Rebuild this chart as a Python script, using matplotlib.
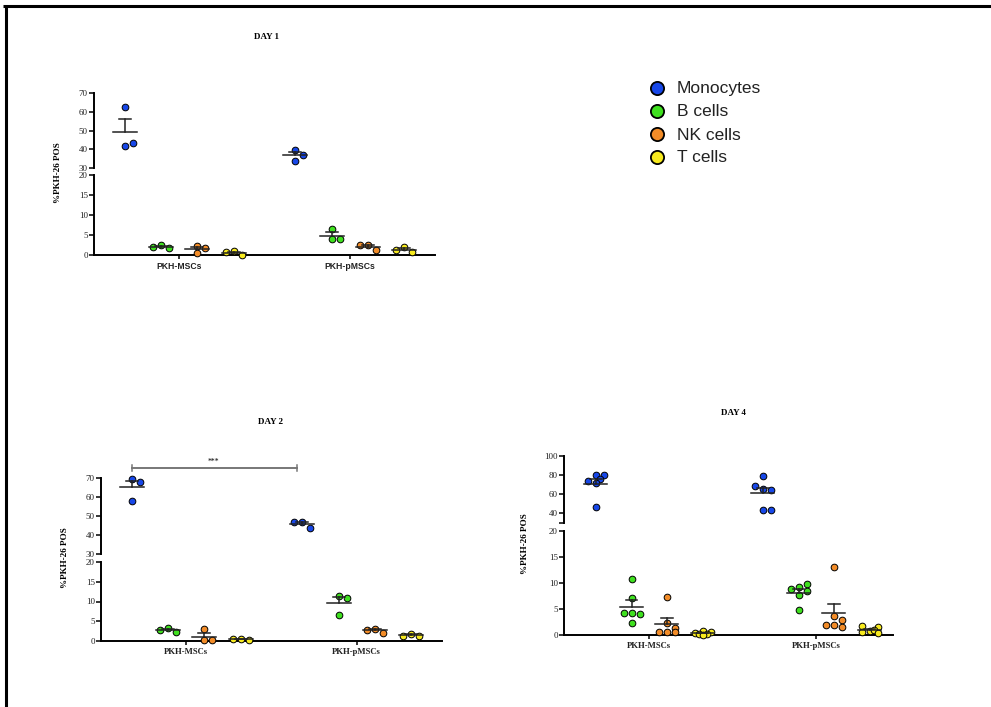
import numpy as np
import matplotlib
matplotlib.use('Agg')
import matplotlib.pyplot as plt

plt.rcParams['font.family'] = 'Liberation Serif'

cell_types = ['Monocytes', 'B cells', 'NK cells', 'T cells']
colors = ['#1747e8', '#3fe01f', '#f28c28', '#f7ea1e']
conditions = ['PKH-MSCs', 'PKH-pMSCs']

# % PKH-26 positive cells, one list per cell type (Monocytes, B, NK, T)
day1_msc = [[62.6, 42.0, 43.5], [2.5, 1.8, 1.9], [2.2, 0.5, 1.7], [0.9, 0.1, 0.8]]
day1_pmsc = [[39.6, 37.0, 33.7], [6.4, 4.1, 4.1], [2.5, 1.25, 2.5], [1.9, 0.7, 1.25]]
day2_msc = [[69.3, 67.9, 58.1], [3.2, 2.4, 2.7], [3.0, 0.2, 0.2], [0.5, 0.25, 0.5]]
day2_pmsc = [[46.7, 43.5, 46.7], [11.5, 11.0, 6.7], [3.1, 2.1, 2.8], [1.8, 1.35, 1.35]]
day4_msc = [[79.7, 79.7, 73.8, 75.9, 71.4, 46.9],
            [10.7, 7.1, 4.2, 4.1, 4.2, 2.3],
            [7.3, 2.4, 1.3, 0.6, 0.5, 0.5],
            [0.8, 0.5, 0.4, 0.1, 0.1, 0.0]]
day4_pmsc = [[78.6, 65.5, 64.1, 68.9, 44.1, 44.1],
             [9.3, 9.8, 8.9, 8.5, 7.6, 4.8],
             [13.0, 3.7, 2.8, 2.0, 2.0, 1.6],
             [0.7, 1.5, 1.8, 1.0, 0.6, 0.4]]

W, H = 991, 707
fig = plt.figure(figsize=(W / 100, H / 100), dpi=100)


def px_rect(x0, y0, x1, y1):
    return [x0 / W, 1 - y1 / H, (x1 - x0) / W, (y1 - y0) / H]


def swarm(ax, xc, vals, d=8.0):
    # spread points sideways (max +-d pixels) so they overlap as little as possible
    pts = ax.transData.transform([(xc, v) for v in vals])
    ppu = ax.transData.transform([(1, 0)])[0][0] - ax.transData.transform([(0, 0)])[0][0]
    cands = [0, d, -d, d / 2, -d / 2]
    placed, out = [], []
    for y in pts[:, 1]:
        best, best_gap = 0, -1
        for x in cands:
            gap = min([np.hypot(x - px, y - py) for px, py in placed] or [1e9])
            if gap >= 0.85 * d:
                best = x
                break
            if gap > best_gap:
                best, best_gap = x, gap
        placed.append((best, y))
        out.append(xc + best / ppu)
    return out


def style_axes(ax, bottom):
    for s in ['top', 'right']:
        ax.spines[s].set_visible(False)
    ax.spines['left'].set_linewidth(1.4)
    ax.tick_params(axis='y', direction='out', length=3.5, width=1.1, pad=1,
                   labelsize=6.5, labelcolor='#222222')
    if bottom:
        ax.spines['bottom'].set_linewidth(1.4)
        ax.tick_params(axis='x', direction='out', length=3, width=1.1, pad=2)
    else:
        ax.spines['bottom'].set_visible(False)
        ax.tick_params(axis='x', bottom=False, labelbottom=False)


def draw_panel(xr, up_y, lo_y, xlim, up_lim, up_ticks, up_labels, groups,
               title, title_xy, ylab_xy, xfont):
    ax_up = fig.add_axes(px_rect(xr[0], up_y[0], xr[1], up_y[1]))
    ax_lo = fig.add_axes(px_rect(xr[0], lo_y[0], xr[1], lo_y[1]))
    for ax in (ax_up, ax_lo):
        ax.set_xlim(*xlim)
        ax.patch.set_visible(False)
    ax_up.set_ylim(*up_lim)
    ax_up.set_yticks(up_ticks)
    ax_up.set_yticklabels(up_labels)
    ax_lo.set_ylim(0, 20)
    ax_lo.set_yticks([0, 5, 10, 15, 20])
    style_axes(ax_up, False)
    style_axes(ax_lo, True)
    ax_lo.set_xticks([0, 1])
    ax_lo.set_xticklabels(conditions, fontsize=6.2, fontweight='bold',
                          family=xfont, color='#222222')

    offsets = [-0.32, -0.105, 0.105, 0.32]
    for ci, cond_vals in enumerate(groups):
        for gi, vals in enumerate(cond_vals):
            xc = ci + offsets[gi]
            vals = np.array(vals)
            hi = vals >= up_lim[0]
            for ax, mask in ((ax_up, hi), (ax_lo, ~hi)):
                if mask.any():
                    xs = swarm(ax, xc, vals[mask])
                    ax.plot(xs, vals[mask], 'o', ms=4.8, mfc=colors[gi], mec='black',
                            mew=0.7, zorder=3, clip_on=False)
            m = vals.mean()
            sem = vals.std(ddof=1) / np.sqrt(len(vals))
            ax = ax_up if m >= up_lim[0] else ax_lo
            ax.plot([xc - 0.07, xc + 0.07], [m, m], color='#222222', lw=1.1, zorder=4)
            ax.plot([xc, xc], [m, m + sem], color='#222222', lw=1.1, zorder=4)
            ax.plot([xc - 0.035, xc + 0.035], [m + sem, m + sem], color='#222222',
                    lw=1.1, zorder=4)

    fig.text(title_xy[0] / W, 1 - title_xy[1] / H, title, ha='center', va='center',
             fontsize=6.5, fontweight='bold')
    fig.text(ylab_xy[0] / W, 1 - ylab_xy[1] / H, '%PKH-26 POS', rotation=90,
             ha='center', va='center', fontsize=6.6, fontweight='bold')
    return ax_up, ax_lo


draw_panel((94, 435), (93, 168), (175, 255), (-0.5, 1.5), (30, 70),
           [30, 40, 50, 60, 70], ['30', '40', '50', '60', '70'],
           [day1_msc, day1_pmsc], 'DAY 1', (266, 37), (58, 173), 'Liberation Sans')

up2, lo2 = draw_panel((101, 442), (478, 554), (562, 641), (-0.5, 1.5), (30, 70),
                      [30, 40, 50, 60, 70], ['30', '40', '50', '60', '70'],
                      [day2_msc, day2_pmsc], 'DAY 2', (271, 422), (65, 558),
                      'Liberation Serif')

draw_panel((564, 893), (456, 523), (531, 635), (-0.51, 1.46), (30, 100),
           [30, 40, 60, 80, 100], ['', '40', '60', '80', '100'],
           [day4_msc, day4_pmsc], 'DAY 4', (733, 413), (525, 544), 'Liberation Serif')

# significance bar, day 2
up2.plot([-0.32, 0.65], [75.3, 75.3], color='#777777', lw=1.4, clip_on=False)
for xe in (-0.32, 0.65):
    up2.plot([xe, xe], [73.8, 76.8], color='#777777', lw=1.1, clip_on=False)
up2.text(0.16, 78.5, '***', ha='center', va='center', fontsize=5.5, clip_on=False)

# overlay in pixel coordinates: legend and frame
ov = fig.add_axes([0, 0, 1, 1])
ov.set_xlim(0, W)
ov.set_ylim(H, 0)
ov.axis('off')
ov.plot([3, W], [6, 6], color='black', lw=2.2, solid_capstyle='butt')
ov.plot([6, 6], [6, H], color='black', lw=2.2, solid_capstyle='butt')
for i, (name, c) in enumerate(zip(cell_types, colors)):
    y = 88 + 23 * i
    ov.plot(657, y, 'o', ms=9.5, mfc=c, mec='black', mew=1.3)
    ov.text(677, y + 1, name, ha='left', va='center', fontsize=12.5,
            family='Liberation Sans', color='#222222')

fig.savefig('out.png', dpi=100)
